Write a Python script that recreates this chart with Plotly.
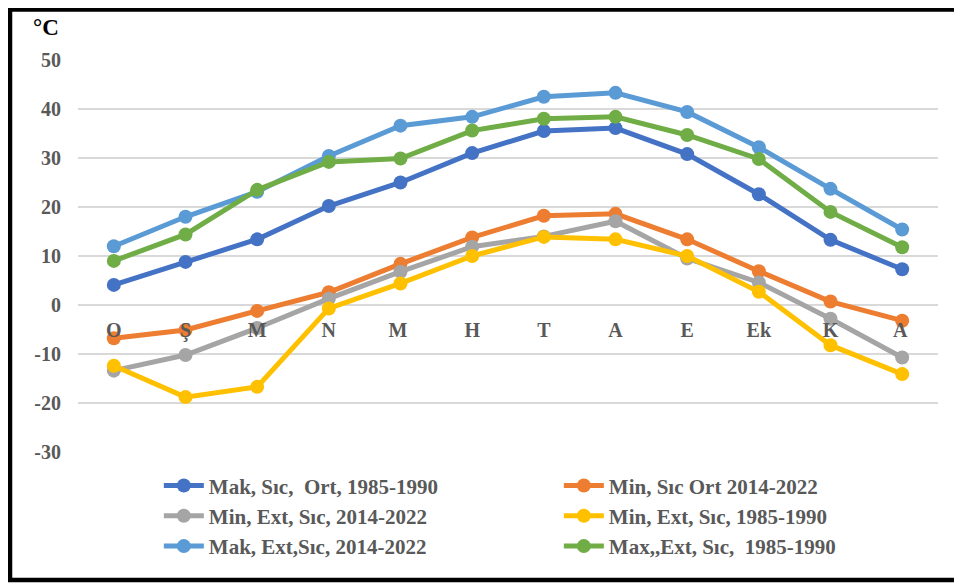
import plotly.graph_objects as go

months = ["O", "Ş", "M", "N", "M ", "H", "T", "A", "E", "Ek", "K", "A "]

mak_sic_ort_1985 = [4.1, 8.8, 13.4, 20.2, 25.0, 31.0, 35.5, 36.1, 30.8, 22.6, 13.3, 7.3]
min_sic_ort_2014 = [-6.8, -5.1, -1.2, 2.6, 8.4, 13.8, 18.2, 18.6, 13.4, 6.9, 0.7, -3.2]
min_ext_sic_2014 = [-13.4, -10.2, -4.7, 1.3, 6.8, 11.9, 14.0, 17.1, 9.5, 4.6, -2.8, -10.7]
min_ext_sic_1985 = [-12.4, -18.8, -16.7, -0.7, 4.4, 10.0, 13.9, 13.4, 10.0, 2.7, -8.2, -14.1]
mak_ext_sic_2014 = [12.0, 18.0, 23.1, 30.4, 36.6, 38.4, 42.5, 43.3, 39.4, 32.2, 23.7, 15.4]
max_ext_sic_1985 = [9.0, 14.4, 23.5, 29.2, 29.9, 35.6, 38.0, 38.4, 34.7, 29.8, 19.0, 11.8]

y_ticks = [-30, -20, -10, 0, 10, 20, 30, 40, 50]
y_ticktext = ["-30", "-20", "-10", "0", "10", "20", "30", "40", "50"]

series = [
    ("Mak, Sıc,  Ort, 1985-1990", mak_sic_ort_1985, "#4472C4"),
    ("Min, Sıc Ort 2014-2022", min_sic_ort_2014, "#ED7D31"),
    ("Min, Ext, Sıc, 2014-2022", min_ext_sic_2014, "#A5A5A5"),
    ("Min, Ext, Sıc, 1985-1990", min_ext_sic_1985, "#FFC000"),
    ("Mak, Ext,Sıc, 2014-2022", mak_ext_sic_2014, "#5B9BD5"),
    ("Max,,Ext, Sıc,  1985-1990", max_ext_sic_1985, "#70AD47"),
]

FONT = "Liberation Serif"
GREY = "#595959"

# page body has an 8px margin, so the figure is a bit smaller than the window
W, H = 954, 576
L, T, PW, PH = 70, 52, 860, 392

fig = go.Figure()
for name, vals, color in series:
    fig.add_trace(go.Scatter(
        x=months, y=vals, name=name, mode="lines+markers",
        line=dict(color=color, width=5),
        marker=dict(color=color, size=14),
    ))

fig.update_layout(
    width=W, height=H,
    margin=dict(l=L, r=W - L - PW, t=T, b=H - T - PH, autoexpand=False),
    paper_bgcolor="white", plot_bgcolor="white",
    font=dict(family=FONT, color=GREY, size=19),
    showlegend=True,
    legend=dict(
        orientation="h", x=0.094, y=-0.034, xanchor="left", yanchor="top",
        entrywidth=345, entrywidthmode="pixels",
        font=dict(family=FONT, size=21, color=GREY, weight="bold"),
        itemwidth=40,
    ),
)

fig.update_xaxes(
    type="category", range=[-0.5, len(months) - 0.5],
    anchor="free", position=0.375,
    showgrid=False, showline=False, ticks="",
    ticklabelstandoff=11,
    tickfont=dict(family=FONT, size=20, color=GREY, weight="bold"),
)
fig.update_yaxes(
    range=[-30, 50], tickvals=y_ticks, ticktext=y_ticktext,
    showgrid=True, gridcolor="#D9D9D9", gridwidth=1.5,
    zeroline=False, showline=False, ticks="",
    ticklabelstandoff=16,
    tickfont=dict(family=FONT, size=20, color=GREY, weight="bold"),
)

fig.add_annotation(
    text="°C", xref="paper", yref="paper",
    x=(38 - L) / PW, y=(T + PH - 19) / PH, showarrow=False,
    xanchor="center", yanchor="middle",
    font=dict(family=FONT, size=23, color="black", weight="bold"),
)

fig.add_shape(
    type="rect", xref="paper", yref="paper",
    x0=(2 - L) / PW, x1=(975 - L) / PW,
    y0=(T + PH - 572) / PH, y1=(T + PH - 1.5) / PH,
    line=dict(color="black", width=4.5), layer="below",
)

fig.write_html("out.html")
